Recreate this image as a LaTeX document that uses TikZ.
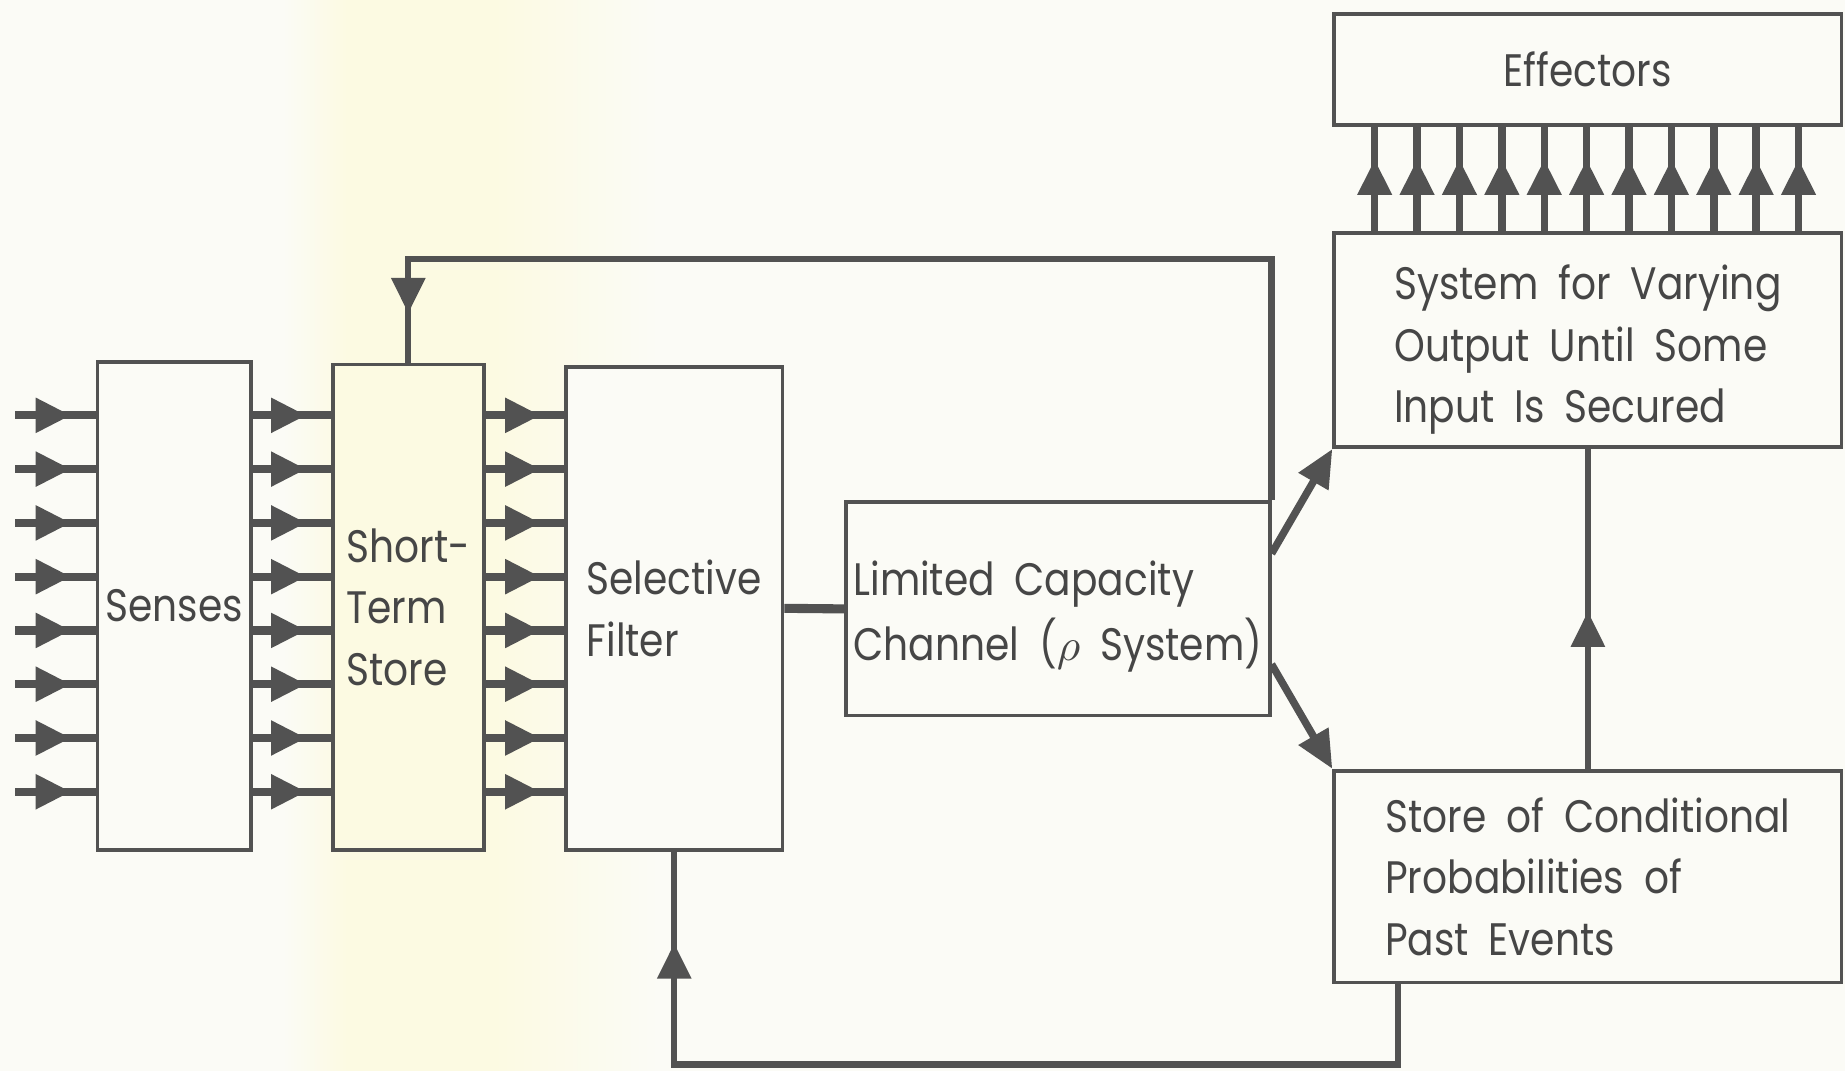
\documentclass[tikz,border=0pt]{standalone}
\usepackage{fontspec}
\setmainfont{Poppins}[FakeStretch=0.86, WordSpace=1.9]
\usetikzlibrary{arrows.meta, decorations.markings}
\definecolor{ink}{HTML}{525252}
\definecolor{paper}{HTML}{FBFBF6}
\definecolor{tint}{HTML}{FCFAE2}
\tikzstyle{block} = [rectangle, draw=ink, line width=0.9pt, fill=paper, text=ink!85!black, align=left, inner sep=0pt, font=\fontsize{11pt}{14.8pt}\selectfont]
\tikzstyle{link} = [draw=ink, line width=1.8pt]
\tikzstyle{arrow} = [link, -{Triangle[length=0.32cm, width=0.28cm]}]
\tikzset{tipat/.style={postaction={decorate}, decoration={markings, mark=at position #1 with {\arrow{Triangle[length=0.3cm, width=0.28cm]}}}}}

\begin{document}
\begin{tikzpicture}[x=0.01cm, y=-0.01cm]
    \fill [paper] (0,0) rectangle (1568,910);
    \shade [left color=paper, right color=tint] (240,0) rectangle (295,910);
    \fill [tint] (295,0) rectangle (420,910);
    \shade [left color=tint, right color=paper] (420,0) rectangle (560,910);
    \useasboundingbox (0,0) rectangle (1568,910);

    \node [block, minimum width=1.3cm, minimum height=4.14cm] at (148,515) (senses) {Senses};
    \node [block, fill=tint, minimum width=1.28cm, minimum height=4.12cm] at (347,516) (sts) {Short-\\Term\\Store};
    \node [block, minimum width=1.84cm, minimum height=4.1cm] at (573,517) (filter) {Selective\\Filter};
    \node [block, minimum width=3.6cm, minimum height=1.81cm] at (899,517.5) (limited) {\rule{0pt}{12pt}Limited Capacity\\[1pt]Channel ($\rho$ System)};
    \node [block, minimum width=4.31cm, minimum height=0.94cm] at (1349.5,59) (effectors) {Effectors};
    \node [block, minimum width=4.31cm, minimum height=1.82cm] at (1349.5,289) (system) {\rule{0pt}{13pt}System for Varying\\Output Until Some\\Input Is Secured};
    \node [block, minimum width=4.31cm, minimum height=1.8cm] at (1349.5,745) (store) {Store of Conditional\\Probabilities of\\Past Events};

    \foreach \i in {0,...,7} {
        \coordinate (in\i) at (13,{353+45.7*\i});
        \draw [link, line width=2pt, tipat=-0.21cm] (in\i) -- (in\i -| senses.west);
        \draw [link, line width=2pt, tipat=-0.21cm] (in\i -| senses.east) -- (in\i -| sts.west);
        \draw [link, line width=2pt, tipat=-0.2cm] (in\i -| sts.east) -- (in\i -| filter.west);
    }
    \foreach \j in {0,...,10}
        \draw [link, tipat=-0.28cm] ([xshift={(\j+1)*0.36cm}]system.north west) -- ([xshift={(\j+1)*0.36cm}]effectors.south west);

    \draw [link, line width=2.2pt] (filter.east) -- (limited.west);
    \draw [link, line width=1.5pt, tipat=-0.42cm] (limited.north east) -- ++(0,-205) -| (sts.north);
    \draw [arrow] ([yshift=0.47cm]limited.east) -- (system.south west);
    \draw [arrow] ([yshift=-0.47cm]limited.east) -- (store.north west);
    \draw [link, line width=1.5pt, tipat=-1.38cm] (store.north) -- (system.south);
    \draw [link, line width=1.5pt, tipat=-0.78cm] ([xshift=0.56cm]store.south west) -- ++(0,68) -| (filter.south);
\end{tikzpicture}
\end{document}
